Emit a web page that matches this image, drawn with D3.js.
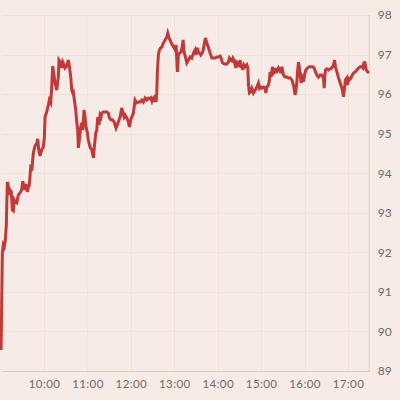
<!DOCTYPE html>
<html>
<head>
<meta charset="utf-8">
<script src="https://cdn.jsdelivr.net/npm/d3@7"></script>
<style>
  html, body { margin: 0; padding: 0; background: #f6ebe6; }
  svg { display: block; }
  .tick text { font-family: Lato, "Open Sans", sans-serif; fill: #6e6a68; }
</style>
</head>
<body>
<div class="chart"></div>
<script>
// minutes after the 09:00 open, and the price at that moment
var minutes = [0.6,1.2,2.4,3.7,5.1,6.5,7.9,9.3,10.6,12.0,13.0,14.8,16.2,17.6,18.9,20.3,22.3,24.5,26.8,29.2,30.6,32.4,33.7,35.1,36.9,38.3,39.7,41.6,43.4,45.2,47.6,49.9,51.3,52.7,54.5,56.8,59.0,60.4,61.4,63.7,65.9,67.3,69.3,70.6,72.0,73.8,75.2,77.6,78.9,79.8,80.7,83.1,84.5,85.9,87.6,89.0,91.4,93.6,95.0,96.9,98.3,99.7,100.5,101.9,103.8,105.2,106.6,107.4,108.8,110.7,112.1,113.5,115.3,116.7,118.1,119.9,121.2,123.6,125.9,128.2,129.5,131.5,132.9,134.2,136.0,137.4,138.8,139.8,142.0,144.3,146.7,148.9,150.3,152.2,154.4,156.8,158.2,159.5,161.3,162.7,165.1,167.4,168.8,170.6,172.0,174.3,176.5,177.9,179.9,181.2,183.5,185.8,188.2,190.4,192.7,195.1,197.3,199.6,202.0,204.2,206.5,207.5,208.9,210.3,212.1,213.5,214.8,215.8,216.6,218.0,219.4,221.3,222.7,224.9,227.3,229.6,231.0,232.8,235.2,237.4,239.7,241.1,242.5,244.3,245.7,247.1,249.0,250.8,252.2,253.5,255.4,257.3,259.5,261.8,264.2,266.4,268.8,270.1,271.9,273.3,274.7,276.6,278.4,280.2,281.6,283.0,284.9,287.2,289.5,291.8,294.0,296.4,298.7,301.0,303.3,304.7,306.5,309.3,312.6,314.8,316.2,318.1,319.5,320.9,322.3,324.1,325.0,326.4,327.8,329.6,331.0,332.3,333.3,334.7,336.1,337.9,340.2,341.6,342.5,343.8,345.2,347.1,349.4,351.7,354.1,356.3,357.7,359.0,361.0,363.2,365.5,366.5,367.9,370.1,371.5,372.4,373.8,375.6,377.0,378.4,379.4,380.7,382.1,383.9,386.3,387.6,388.6,390.0,390.8,393.2,395.5,397.7,400.1,402.4,404.7,407.0,408.4,409.4,410.2,411.6,413.0,413.9,415.3,416.7,418.5,419.9,421.8,424.0,426.4,428.7,430.9,433.3,435.1,437.0,439.2,441.6,443.9,445.3,446.1,447.1,448.1,448.9,450.8,453.1,455.4,457.7,460.0,461.4,462.7,464.7,466.9,469.2,471.6,472.9,473.8,475.2,476.5,478.5,479.3,480.7,482.1,484.0,485.8,487.6,490.0,492.3,494.5,496.9,499.2,500.6,502.0,503.4,505.2,507.0,509.3];
var prices = [89.53,90.29,91.98,92.19,92.14,92.31,92.69,93.78,93.68,93.45,93.58,93.53,93.07,93.05,93.32,93.27,93.25,93.45,93.50,93.58,93.80,93.65,93.58,93.73,93.53,93.65,93.70,94.16,94.13,94.51,94.69,94.76,94.87,94.59,94.44,94.59,94.66,94.89,95.42,95.55,95.72,95.85,95.78,96.18,96.71,96.48,96.28,96.10,96.31,96.43,96.86,96.79,96.66,96.81,96.74,96.66,96.71,96.86,96.71,96.43,96.10,96.03,96.05,95.85,95.60,95.30,95.09,94.64,94.84,95.17,95.27,95.09,95.60,95.42,95.17,95.02,94.84,94.66,94.59,94.39,94.66,95.02,95.09,95.42,95.22,95.47,95.42,95.52,95.55,95.55,95.55,95.52,95.40,95.35,95.35,95.30,95.22,95.14,95.22,95.30,95.42,95.65,95.55,95.42,95.47,95.40,95.30,95.17,95.35,95.42,95.52,95.85,95.78,95.80,95.80,95.85,95.80,95.90,95.85,95.90,95.88,95.90,95.83,95.93,95.80,95.98,95.80,96.05,96.56,96.99,97.12,97.17,97.19,97.29,97.37,97.44,97.54,97.42,97.32,97.24,97.17,97.12,97.24,96.56,96.99,97.04,97.06,97.19,97.37,97.06,96.94,96.79,96.86,96.94,96.91,97.04,97.12,96.99,97.17,97.06,97.04,96.99,97.04,97.12,97.29,97.42,97.29,97.17,97.04,96.91,96.91,96.91,96.94,96.94,96.96,96.91,96.79,96.76,96.76,96.81,96.91,96.86,96.84,96.91,96.86,96.74,96.66,96.81,96.79,96.69,96.86,96.66,96.74,96.61,96.74,96.69,96.74,96.66,96.23,96.03,96.05,96.15,96.03,96.10,96.18,96.28,96.15,96.18,96.15,96.18,96.15,96.03,96.18,96.23,96.36,96.56,96.43,96.69,96.53,96.56,96.66,96.53,96.61,96.66,96.56,96.56,96.69,96.56,96.48,96.43,96.43,96.41,96.41,96.36,96.23,95.98,96.15,96.31,96.56,96.81,96.66,96.48,96.28,96.41,96.31,96.48,96.61,96.66,96.69,96.69,96.69,96.66,96.56,96.48,96.43,96.48,96.48,96.43,96.41,96.15,96.48,96.61,96.64,96.61,96.64,96.66,96.74,96.86,96.69,96.56,96.41,96.28,96.15,96.03,95.93,96.15,96.36,96.41,96.23,96.43,96.36,96.41,96.48,96.53,96.56,96.61,96.66,96.69,96.69,96.66,96.79,96.79,96.61,96.56,96.56];
var hourTicks = ["10:00","11:00","12:00","13:00","14:00","15:00","16:00","17:00"];
var priceTicks = [89,90,91,92,93,94,95,96,97,98];

function drawChart(){
  var parseHM = d3.timeParse("%H:%M");
  var open = parseHM("9:00");
  var close = parseHM("17:30");

  var data = minutes.map(function(m, i) {
    return { t: new Date(open.getTime() + m * 60000), v: prices[i] };
  });

  var W = 400, H = 400;
  var plotLeft = 0.6, plotRight = 369.7, plotTop = 15, plotBottom = 371;

  var svg = d3.select(".chart").append("svg")
    .attr("width", W)
    .attr("height", H);

  var x = d3.scaleTime()
    .domain([open, close])
    .range([plotLeft, plotRight]);

  var y = d3.scaleLinear()
    .domain([89, 98])
    .range([plotBottom, plotTop]);

  // grid
  svg.append("g").selectAll("line")
    .data(priceTicks.slice(1)).enter().append("line")
    .attr("x1", 2).attr("x2", plotRight)
    .attr("y1", function(d){ return Math.round(y(d)) + 0.5; })
    .attr("y2", function(d){ return Math.round(y(d)) + 0.5; })
    .attr("stroke", "#f1e2d8").attr("stroke-width", 1);

  svg.append("g").selectAll("line")
    .data(hourTicks).enter().append("line")
    .attr("x1", function(d){ return Math.round(x(parseHM(d))) + 0.5; })
    .attr("x2", function(d){ return Math.round(x(parseHM(d))) + 0.5; })
    .attr("y1", plotTop).attr("y2", plotBottom)
    .attr("stroke", "#f1e2d8").attr("stroke-width", 1);

  // axes
  var xAxis = d3.axisBottom(x)
    .tickValues(hourTicks.map(parseHM))
    .tickFormat(d3.timeFormat("%H:%M"))
    .tickSize(0)
    .tickPadding(9);

  var gx = svg.append("g")
    .attr("transform", "translate(0," + plotBottom + ")")
    .call(xAxis);
  gx.select(".domain").remove();
  gx.selectAll("text").style("font-size", "11.5px").style("letter-spacing", "0.4px");

  svg.append("line")
    .attr("x1", 2).attr("x2", plotRight)
    .attr("y1", plotBottom + 0.5).attr("y2", plotBottom + 0.5)
    .attr("stroke", "#d8ccc6");

  var yAxis = d3.axisRight(y)
    .tickValues(priceTicks)
    .tickFormat(d3.format("d"))
    .tickSize(0)
    .tickPadding(8);

  var gy = svg.append("g")
    .attr("transform", "translate(" + plotRight + ",0)")
    .call(yAxis);
  gy.select(".domain").remove();
  gy.selectAll("text").style("font-size", "12px");

  svg.append("line")
    .attr("x1", plotRight - 0.5).attr("x2", plotRight - 0.5)
    .attr("y1", plotTop).attr("y2", plotBottom + 1)
    .attr("stroke", "#d8ccc6");

  // price line
  var line = d3.line()
    .x(function(d){ return x(d.t); })
    .y(function(d){ return y(d.v); });

  svg.append("path")
    .datum(data)
    .attr("fill", "none")
    .attr("stroke", "#bf3a38")
    .attr("stroke-width", 3)
    .attr("stroke-linejoin", "miter")
    .attr("d", line);
}
drawChart()
</script>
</body>
</html>
